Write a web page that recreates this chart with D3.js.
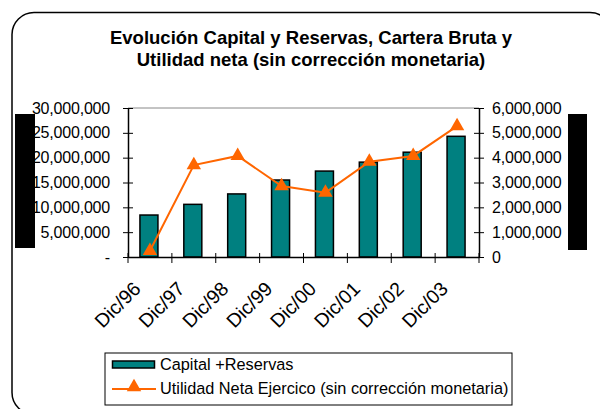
<!DOCTYPE html>
<html><head><meta charset="utf-8">
<script src="https://cdn.jsdelivr.net/npm/d3@7"></script>
<style>body{margin:0;background:#fff}svg{display:block;font-family:"Liberation Sans",Arial,sans-serif}</style>
</head><body><svg id="c" width="600" height="409"></svg>
<script>
const categories = ["Dic/96","Dic/97","Dic/98","Dic/99","Dic/00","Dic/01","Dic/02","Dic/03"];
const capitalReservas = [8450000,10600000,12700000,15500000,17300000,19100000,21100000,24300000];
const utilidadNeta = [250000,3700000,4070000,2860000,2590000,3840000,4070000,5270000];
const leftTicks = [0,5000000,10000000,15000000,20000000,25000000,30000000];
const rightTicks = [0,1000000,2000000,3000000,4000000,5000000,6000000];
const titleLines = ["Evolución Capital y Reservas, Cartera Bruta y","Utilidad neta (sin corrección monetaria)"];
const legendLabels = ["Capital +Reservas","Utilidad Neta Ejercico (sin corrección monetaria)"];

const svg = d3.select("#c");
const M = {l:128, r:479, t:108, b:257};
const teal = "#008080", orange = "#FF6600";

// frame
svg.append("rect").attr("x",12).attr("y",12.5).attr("width",600).attr("height",402)
  .attr("rx",22).attr("fill","none").attr("stroke","#000").attr("stroke-width",1.5);
// black bars at sides
svg.append("rect").attr("x",15).attr("y",114).attr("width",20).attr("height",134).attr("fill","#000");
svg.append("rect").attr("x",568).attr("y",114).attr("width",19).attr("height",136).attr("fill","#000");

// title
svg.append("g").selectAll("text").data(titleLines).join("text")
  .attr("x",311).attr("y",(d,i)=>44+i*22).attr("text-anchor","middle")
  .attr("font-weight","bold").attr("font-size",18.5).text(d=>d);

const x = d3.scaleBand().domain(categories).range([M.l,M.r]);
const yL = d3.scaleLinear().domain([0,30000000]).range([M.b,M.t]);
const yR = d3.scaleLinear().domain([0,6000000]).range([M.b,M.t]);

// top border line of plot area
svg.append("line").attr("x1",M.l).attr("x2",M.r).attr("y1",M.t).attr("y2",M.t)
  .attr("stroke","#888").attr("stroke-width",1);

// bars
const bw = 18;
svg.append("g").selectAll("rect").data(capitalReservas).join("rect")
  .attr("x",(d,i)=>x(categories[i])+x.bandwidth()/2-bw/2-1)
  .attr("y",d=>yL(d)).attr("width",bw).attr("height",d=>yL(0)-yL(d))
  .attr("fill",teal).attr("stroke","#000").attr("stroke-width",1.5);

const fmt = d=> d===0 ? "-" : d3.format(",")(d);
// left axis
const gL = svg.append("g").attr("transform",`translate(${M.l},0)`)
  .call(d3.axisLeft(yL).tickValues(leftTicks).tickFormat(fmt).tickSizeInner(5).tickSizeOuter(0).tickPadding(13));
gL.selectAll(".tick line").attr("x2",5).attr("x1",-5);
// right axis
const gR = svg.append("g").attr("transform",`translate(${M.r},0)`)
  .call(d3.axisRight(yR).tickValues(rightTicks).tickFormat(d3.format(",")).tickSizeInner(5).tickSizeOuter(0).tickPadding(8));
gR.selectAll(".tick line").attr("x1",-5).attr("x2",5);
// bottom axis
const gB = svg.append("g").attr("transform",`translate(0,${M.b})`)
  .call(d3.axisBottom(x).tickValues([]).tickSizeOuter(0));
gB.selectAll(".tick").remove();
const bounds = categories.map(c=>x(c)).concat([M.r]);
gB.selectAll("line.tk").data(bounds).join("line").attr("class","tk")
  .attr("x1",d=>d).attr("x2",d=>d).attr("y1",-4).attr("y2",6).attr("stroke","#000");
[gL,gR,gB].forEach(g=>{g.selectAll("path.domain").attr("stroke","#000").attr("stroke-width",1.5);
  g.selectAll("line").attr("stroke","#000").attr("stroke-width",1);
  g.selectAll("text").attr("font-size",16).attr("fill","#000").attr("font-family","Liberation Sans, Arial, sans-serif");});
gL.selectAll(".tick text").attr("letter-spacing","-0.2");
gR.selectAll(".tick text").attr("letter-spacing","-0.2");

// x labels
svg.append("g").selectAll("text").data(categories).join("text")
  .attr("transform",d=>`translate(${x(d)+x.bandwidth()/2-8},${M.b+33}) rotate(-45)`)
  .attr("text-anchor","end").attr("font-size",19.5).text(d=>d);

// line
const cx = (d,i)=>x(categories[i])+x.bandwidth()/2;
svg.append("path").datum(utilidadNeta)
  .attr("d",d3.line().x(cx).y(d=>yR(d)))
  .attr("fill","none").attr("stroke",orange).attr("stroke-width",2);
const tri = d3.symbol().type(d3.symbolTriangle).size(90);
svg.append("g").selectAll("path").data(utilidadNeta).join("path")
  .attr("transform",(d,i)=>`translate(${cx(d,i)},${yR(d)})`)
  .attr("d",tri).attr("fill",orange);

// legend
const lg = svg.append("g");
lg.append("rect").attr("x",105).attr("y",353).attr("width",407).attr("height",52)
  .attr("fill","#fff").attr("stroke","#000").attr("stroke-width",1);
lg.append("rect").attr("x",112.5).attr("y",361).attr("width",42).attr("height",7)
  .attr("fill",teal).attr("stroke","#000").attr("stroke-width",1.5);
lg.append("line").attr("x1",112).attr("x2",156).attr("y1",389).attr("y2",389)
  .attr("stroke",orange).attr("stroke-width",2);
lg.append("path").attr("transform","translate(134,387)").attr("d",tri).attr("fill",orange);
lg.selectAll("text").data(legendLabels).join("text")
  .attr("x",160).attr("y",(d,i)=>370+i*24).attr("font-size",16.3).text(d=>d);
</script></body></html>
